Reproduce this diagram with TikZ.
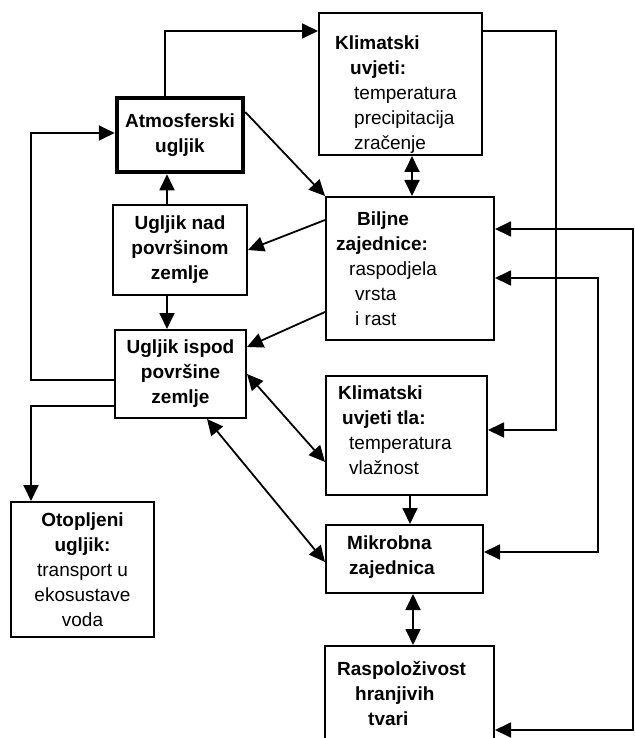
\documentclass[tikz,border=0pt]{standalone}
\usepackage{fontspec}
\setmainfont{Liberation Sans}
\usetikzlibrary{arrows.meta}

\begin{document}
\begin{tikzpicture}[x=1pt,y=-1pt,
    >={Triangle[length=16pt,width=15pt]},
    font=\fontsize{19}{25}\selectfont,
    box/.style={draw, line width=2pt, inner sep=0pt, align=center},
    txt/.style={anchor=north west, inner sep=0pt, align=left},
    conn/.style={line width=1.8pt, ->}]
    \useasboundingbox (0,0) rectangle (634,738);
    \clip (0,0) rectangle (634,738);

    % Boxes
    \node[box, minimum width=163pt, minimum height=142pt] (klima) at (400.5,84) {};
    \node[box, line width=4.5pt, minimum width=126pt, minimum height=74pt] (atm) at (180,135)
        {\textbf{Atmosferski}\\\textbf{ugljik}};
    \node[box, minimum width=134pt, minimum height=90pt] (nad) at (180,250)
        {\textbf{Ugljik nad}\\\textbf{površinom}\\\textbf{zemlje}};
    \node[box, minimum width=131pt, minimum height=88pt] (ispod) at (180.5,374)
        {\textbf{Ugljik ispod}\\\textbf{površine}\\\textbf{zemlje}};
    \node[box, minimum width=143pt, minimum height=135pt] (otop) at (82.5,569.5)
        {\textbf{Otopljeni}\\\textbf{ugljik:}\\transport u\\ekosustave\\voda};
    \node[box, minimum width=168pt, minimum height=143pt] (bilj) at (410,268.5) {};
    \node[box, minimum width=161pt, minimum height=119pt] (tla) at (406.5,435.5) {};
    \node[box, minimum width=157pt, minimum height=68pt] (mikro) at (404.5,559) {};
    \node[box, minimum width=169pt, minimum height=104pt] (hrana) at (409.5,698) {};

    % Texts of the left-aligned boxes
    \node[txt] (klimaT) at (335,36) {\textbf{Klimatski}\\\hspace*{15pt}\textbf{uvjeti:}\\
        \hspace*{19pt}temperatura\\\hspace*{19pt}precipitacija\\\hspace*{19pt}zračenje};
    \node[txt] (biljT) at (336,212) {\hspace*{21pt}\textbf{Biljne}\\\textbf{zajednice:}\\
        \hspace*{13pt}raspodjela\\\hspace*{19pt}vrsta\\\hspace*{19pt}i rast};
    \node[txt] (tlaT) at (338,386) {\textbf{Klimatski}\\\hspace*{4pt}\textbf{uvjeti tla:}\\
        \hspace*{11pt}temperatura\\\hspace*{11pt}vlažnost};
    \node[txt] (mikroT) at (347,536) {\textbf{Mikrobna}\\\hspace*{2pt}\textbf{zajednica}};
    \node[txt] (hranaT) at (337,661) {\textbf{Raspoloživost}\\\hspace*{18pt}\textbf{hranjivih}\\
        \hspace*{31pt}\textbf{tvari}};

    % Bend points
    \coordinate (top) at (165,31);
    \coordinate (rt) at (556,31);
    \coordinate (rb) at (556,430);
    \coordinate (la) at (31,380);
    \coordinate (lb) at (31,133);
    \coordinate (lc) at (31,406);
    \coordinate (ft) at (633,229);
    \coordinate (fb) at (633,730);
    \coordinate (nt) at (598,278);
    \coordinate (nb) at (598,552);
    \coordinate (kb) at (412,0);
    \coordinate (lx) at (167,0);
    \coordinate (bx) at (207,0);
    \coordinate (tm) at (410,0);
    \coordinate (mh) at (413,0);

    % Connectors
    \draw[conn] (top |- atm.north) -- (top) -- (top -| klima.west);
    \draw[conn] (rt -| klima.east) -- (rt) -- (rb) -- (rb -| tla.east);
    \draw[conn] ([yshift=23pt]atm.east) -- (bilj.north west);
    \draw[conn,<->] (kb |- klima.south) -- (kb |- bilj.north);
    \draw[conn] ([yshift=48.5pt]bilj.west) -- (nad.east);
    \draw[conn] ([yshift=-43.5pt]bilj.west) -- ([yshift=27pt]ispod.east);
    \draw[conn] (lx |- nad.north) -- (lx |- atm.south);
    \draw[conn] (lx |- nad.south) -- (lx |- ispod.north);
    \draw[conn] (la -| ispod.west) -- (la) -- (lb) -- (lb -| atm.west);
    \draw[conn] (lc -| ispod.west) -- (lc) -- (lc |- otop.north);
    \draw[conn,<->] (ispod.east) -- ([yshift=-26.5pt]tla.west);
    \draw[conn,<->] (bx |- ispod.south) -- ([yshift=-3pt]mikro.west);
    \draw[conn] (tm |- tla.south) -- (tm |- mikro.north);
    \draw[conn,<->] (mh |- mikro.south) -- (mh |- hrana.north);
    \draw[conn,<->] (fb -| hrana.east) -- (fb) -- (ft) -- (ft -| bilj.east);
    \draw[conn,<->] (nb -| mikro.east) -- (nb) -- (nt) -- (nt -| bilj.east);
\end{tikzpicture}
\end{document}
